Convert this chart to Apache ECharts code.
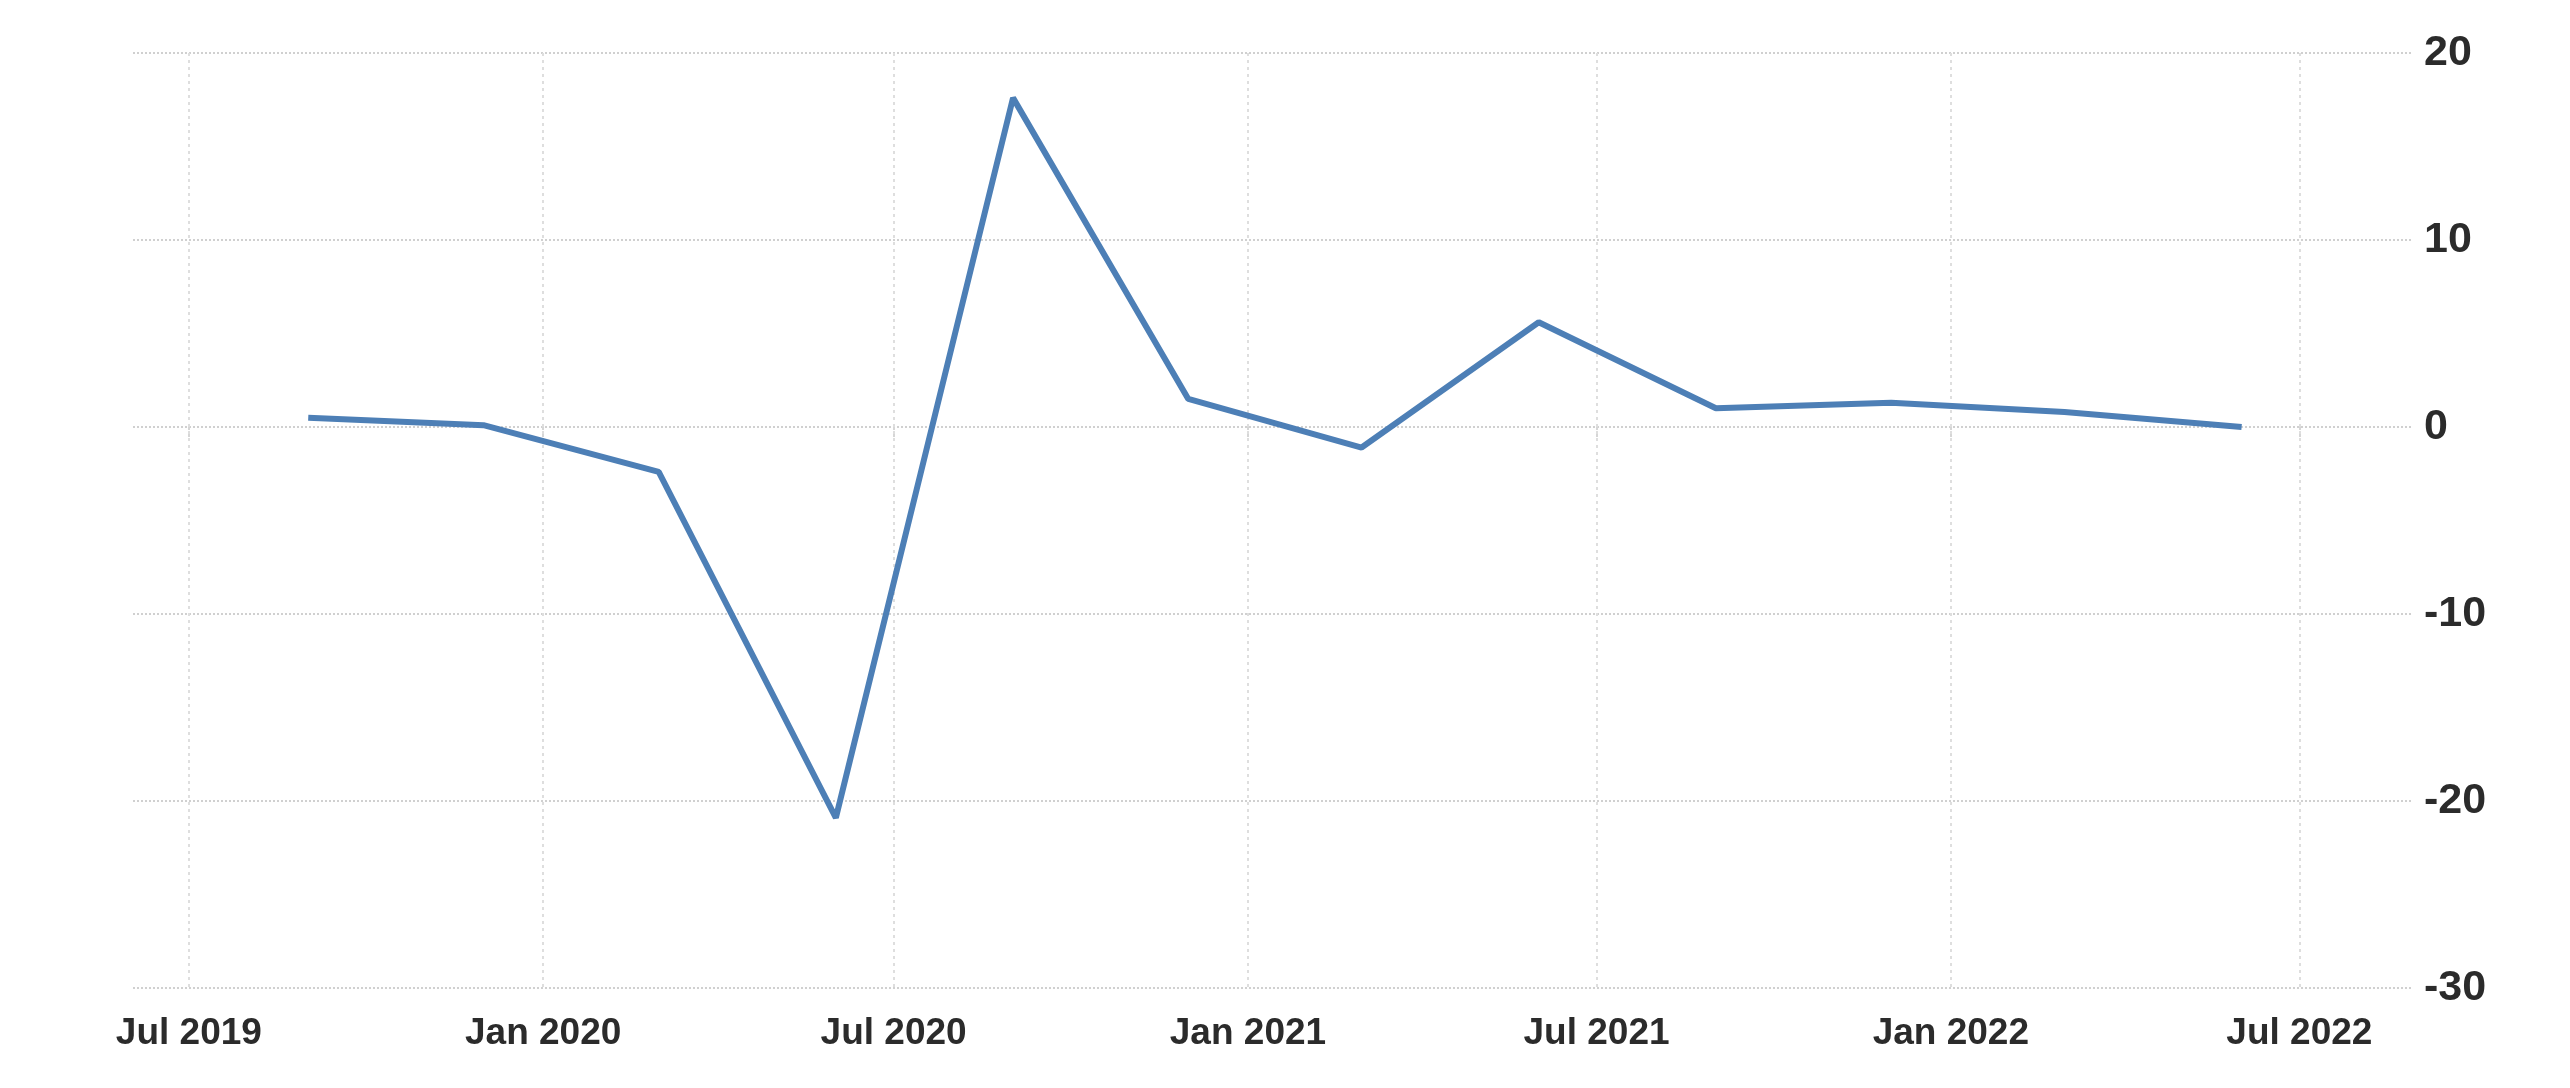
<!DOCTYPE html>
<html><head><meta charset="utf-8">
<script src="https://cdn.jsdelivr.net/npm/echarts@6/dist/echarts.min.js"></script>
<style>html,body{margin:0;padding:0;background:#fff}#c{width:2570px;height:1088px}</style>
</head><body><div id="c"></div>
<script>
const periods = ['2019-09-01','2019-12-01','2020-03-01','2020-06-01','2020-09-01','2020-12-01','2021-03-01','2021-06-01','2021-09-01','2021-12-01','2022-03-01','2022-06-01'];
const values = [0.5, 0.1, -2.4, -20.9, 17.6, 1.5, -1.1, 5.6, 1.0, 1.3, 0.8, 0.0];
const tickDates = ['2019-07-01','2020-01-01','2020-07-01','2021-01-01','2021-07-01','2022-01-01','2022-07-01'];
const tickLabels = ['Jul 2019','Jan 2020','Jul 2020','Jan 2021','Jul 2021','Jan 2022','Jul 2022'];
const yMin = -30, yMax = 20, yStep = 10;

function ts(s){ const p = s.split('-').map(Number); return Date.UTC(p[0], p[1]-1, p[2]); }
const tickTs = tickDates.map(ts);

const chart = echarts.init(document.getElementById('c'), null, {renderer:'canvas'});
chart.setOption({
  animation:false,
  backgroundColor:'#fff',
  grid:{left:133, right:157, top:53, bottom:100, containLabel:false},
  xAxis:{
    type:'value',
    min: ts('2019-06-02'),
    max: ts('2022-08-29'),
    axisLine:{show:false},
    axisTick:{show:true, length:12, customValues: tickTs, lineStyle:{color:'#d6d6d6', type:[3,4], width:2}},
    axisLabel:{
      customValues: tickTs,
      margin:27,
      color:'#2b2b2b',
      fontFamily:'Liberation Sans, Arial, sans-serif',
      fontWeight:'bold',
      fontSize:37,
      formatter:function(v){ const i = tickTs.indexOf(v); return i>=0 ? tickLabels[i] : ''; }
    },
    splitLine:{show:true, lineStyle:{color:'#dedede', type:[3,4], width:2}}
  },
  yAxis:{
    type:'value',
    position:'right',
    min:yMin, max:yMax, interval:yStep,
    axisLine:{show:false},
    axisTick:{show:false},
    axisLabel:{margin:11, color:'#2b2b2b', fontFamily:"'Liberation Sans Narrow', 'Liberation Sans', sans-serif", fontWeight:'bold', fontSize:43},
    splitLine:{show:true, lineStyle:{color:'#d0d0d0', type:[2,2], width:2}}
  },
  series:[{
    type:'line',
    data: periods.map((p,i)=>[ts(p), values[i]]),
    showSymbol:false,
    symbol:'none',
    lineStyle:{color:'#4d7fb6', width:6},
    z:5
  }]
});
</script></body></html>
